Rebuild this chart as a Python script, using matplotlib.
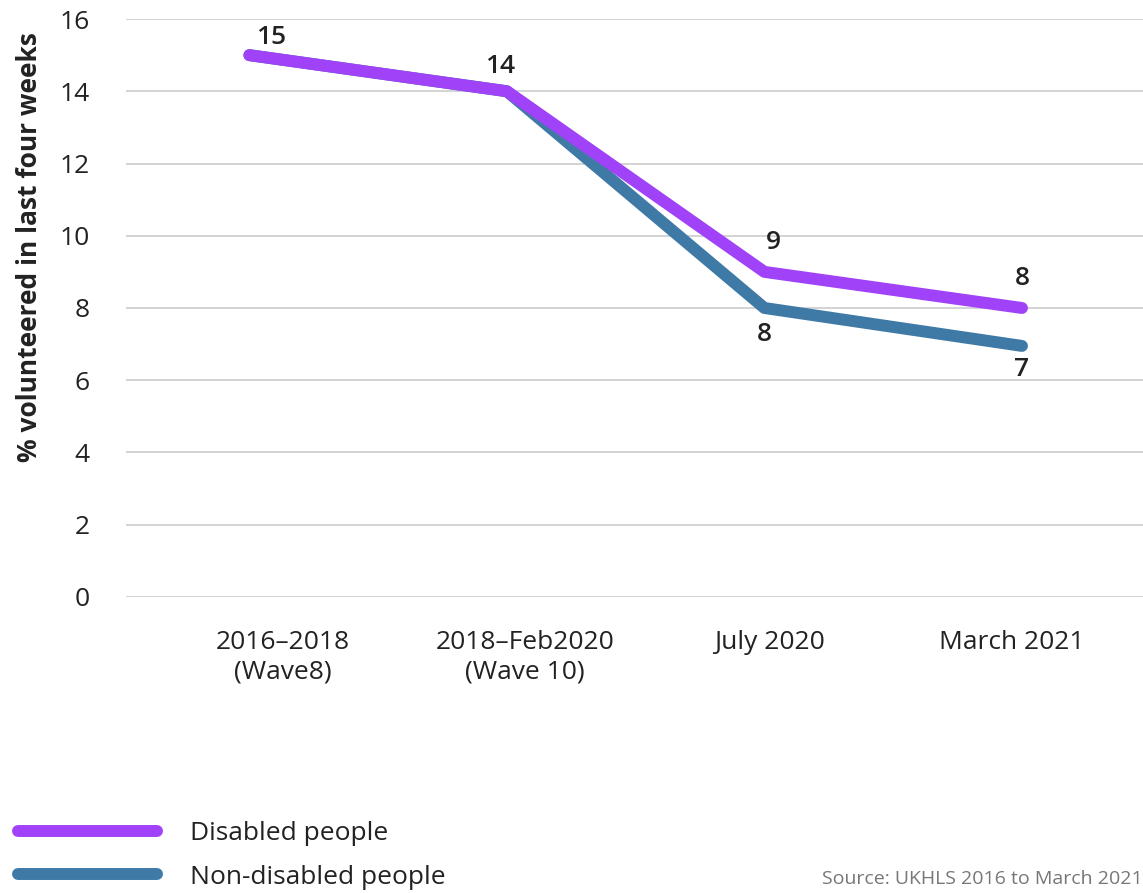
import matplotlib.pyplot as plt

plt.rcParams['font.family'] = ['Open Sans', 'DejaVu Sans']

categories = ['2016–2018\n(Wave8)', '2018–Feb2020\n(Wave 10)', 'July 2020', 'March 2021']
disabled = [15.0, 14.0, 9.0, 8.0]
non_disabled = [15.0, 14.0, 8.0, 6.95]
disabled_labels = ['15', '14', '9', '8']
non_disabled_labels = ['', '', '8', '7']

purple = '#A042F8'
blue = '#3F7AA6'

fig = plt.figure(figsize=(11.43, 8.93), dpi=100)
ax = fig.add_axes([0.110, 0.3315, 0.890, 0.6472])

x = list(range(len(categories)))
ax.plot(x, non_disabled, color=blue, lw=8.6, solid_capstyle='round', solid_joinstyle='round',
        label='Non-disabled people', zorder=3)
ax.plot(x, disabled, color=purple, lw=8.6, solid_capstyle='round', solid_joinstyle='round',
        label='Disabled people', zorder=4)

# data labels (offsets in pixels -> points)
d_off = [(22, 18), (-7, 25), (9, 29), (0, 29)]
for xi, yi, lab, (dx, dy) in zip(x, disabled, disabled_labels, d_off):
    ax.annotate(lab, (xi, yi), xytext=(dx * 0.72, dy * 0.72), textcoords='offset points',
                ha='center', va='center', fontsize=19, fontweight='semibold', color='#222222')
n_off = [(0, 0), (0, 0), (0, -27), (0, -24)]
for xi, yi, lab, (dx, dy) in zip(x, non_disabled, non_disabled_labels, n_off):
    if lab:
        ax.annotate(lab, (xi, yi), xytext=(dx * 0.72, dy * 0.72), textcoords='offset points',
                    ha='center', va='center', fontsize=19, fontweight='semibold', color='#222222')

ax.set_xlim(-0.48, 3.47)
ax.set_ylim(0, 16)
ax.set_yticks(range(0, 17, 2))
ax.set_xticks([0.13, 1.07, 2.02, 2.96])
ax.set_xticklabels(categories)
ax.tick_params(axis='both', length=0, labelsize=19, colors='#222222')
ax.tick_params(axis='y', pad=26)
ax.tick_params(axis='x', pad=24)
ax.grid(axis='y', color='#d0d0d0', lw=1.3)
ax.set_axisbelow(True)
for s in ax.spines.values():
    s.set_visible(False)

ax.set_ylabel('% volunteered in last four weeks', fontsize=19, fontweight='bold',
              color='#222222')
ax.yaxis.set_label_coords(-0.081, 0.606)

handles, labels = ax.get_legend_handles_labels()
leg = fig.legend(handles[::-1], labels[::-1], loc='center left', bbox_to_anchor=(0.0157, 0.042),
                 frameon=False, fontsize=19, handlelength=5.27, handletextpad=1.25,
                 labelspacing=0.69, borderaxespad=0, borderpad=0)
for t in leg.get_texts():
    t.set_color('#222222')

fig.text(1.0, 0.016, 'Source: UKHLS 2016 to March 2021', ha='right', va='center',
         fontsize=14, color='#777777')

fig.savefig('out.png', dpi=100)
